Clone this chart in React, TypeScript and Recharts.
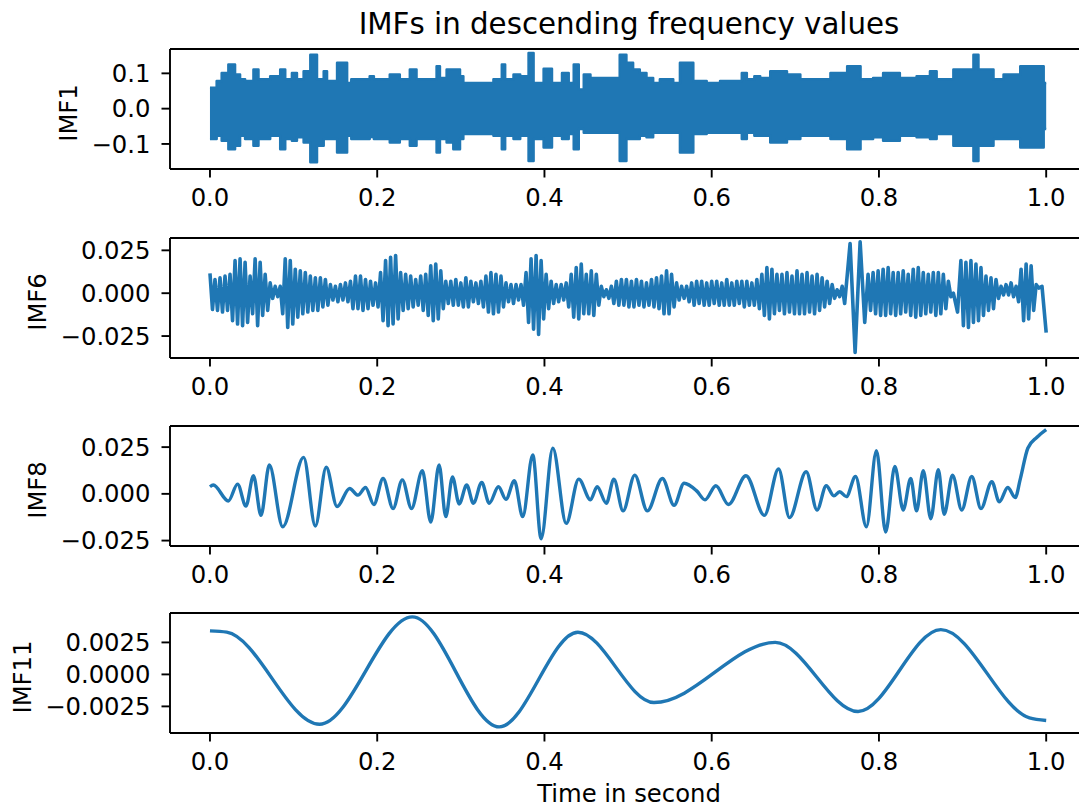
import React from 'react';
import { ComposedChart, Line, Area, XAxis, YAxis } from 'recharts';

const FONT = '"DejaVu Sans", sans-serif';
const BLUE = '#1f77b4';

// ---- x axis (time) ----
const xTicks = [0, 0.2, 0.4, 0.6, 0.8, 1.0];
const xTickLabels = ['0.0', '0.2', '0.4', '0.6', '0.8', '1.0'];

// ---- IMF1 : envelope of the dense high-frequency trace ----
const imf1Time = [0.000, 0.008, 0.014, 0.022, 0.030, 0.036, 0.042, 0.052, 0.058, 0.072, 0.084, 0.090, 0.098, 0.104, 0.112, 0.120, 0.128, 0.136, 0.140, 0.152, 0.164, 0.169, 0.191, 0.196, 0.215, 0.227, 0.239, 0.247, 0.271, 0.275, 0.283, 0.291, 0.299, 0.303, 0.339, 0.349, 0.353, 0.363, 0.371, 0.381, 0.387, 0.399, 0.409, 0.421, 0.429, 0.435, 0.441, 0.447, 0.455, 0.490, 0.498, 0.506, 0.514, 0.522, 0.530, 0.538, 0.554, 0.562, 0.578, 0.594, 0.610, 0.636, 0.642, 0.651, 0.658, 0.670, 0.690, 0.706, 0.742, 0.762, 0.778, 0.793, 0.805, 0.825, 0.845, 0.861, 0.869, 0.889, 0.913, 0.919, 0.937, 0.949, 0.969, 0.997, 1.000];
const imf1Upper = [0.059, 0.078, 0.101, 0.125, 0.097, 0.083, 0.078, 0.111, 0.083, 0.092, 0.111, 0.083, 0.101, 0.083, 0.106, 0.153, 0.083, 0.106, 0.078, 0.130, 0.073, 0.083, 0.092, 0.083, 0.097, 0.083, 0.111, 0.083, 0.120, 0.087, 0.111, 0.111, 0.092, 0.073, 0.083, 0.125, 0.083, 0.097, 0.092, 0.158, 0.073, 0.113, 0.073, 0.101, 0.073, 0.125, 0.054, 0.097, 0.087, 0.153, 0.130, 0.111, 0.101, 0.087, 0.073, 0.083, 0.073, 0.130, 0.078, 0.073, 0.078, 0.101, 0.083, 0.092, 0.087, 0.106, 0.097, 0.083, 0.101, 0.120, 0.083, 0.087, 0.101, 0.087, 0.092, 0.106, 0.083, 0.111, 0.153, 0.111, 0.083, 0.097, 0.120, 0.073, 0.073];
const imf1Lower = [-0.086, -0.077, -0.091, -0.115, -0.105, -0.077, -0.086, -0.105, -0.086, -0.077, -0.115, -0.086, -0.091, -0.081, -0.096, -0.152, -0.105, -0.086, -0.086, -0.124, -0.077, -0.086, -0.080, -0.086, -0.096, -0.086, -0.105, -0.086, -0.124, -0.086, -0.096, -0.115, -0.086, -0.072, -0.077, -0.115, -0.077, -0.086, -0.077, -0.148, -0.086, -0.110, -0.077, -0.086, -0.072, -0.115, -0.058, -0.068, -0.068, -0.148, -0.086, -0.086, -0.077, -0.081, -0.068, -0.068, -0.068, -0.124, -0.072, -0.068, -0.068, -0.086, -0.068, -0.077, -0.077, -0.096, -0.086, -0.077, -0.086, -0.115, -0.086, -0.081, -0.091, -0.077, -0.081, -0.086, -0.072, -0.105, -0.148, -0.105, -0.086, -0.086, -0.110, -0.058, -0.058];
const imf1Ticks = [-0.1, 0, 0.1];
const imf1TickLabels = ['\u22120.1', '0.0', '0.1'];

// ---- IMF6 : peaks and troughs of the trace ----
const imf6Time = [
  0.000, 0.003, 0.006, 0.009, 0.012, 0.015, 0.018, 0.021, 0.024, 0.027,
  0.030, 0.033, 0.036, 0.039, 0.042, 0.045, 0.048, 0.051, 0.054, 0.057,
  0.060, 0.063, 0.066, 0.069, 0.072, 0.075, 0.078, 0.081, 0.084, 0.087,
  0.090, 0.093, 0.096, 0.099, 0.102, 0.105, 0.108, 0.111, 0.114, 0.117,
  0.120, 0.123, 0.126, 0.129, 0.132, 0.135, 0.138, 0.141, 0.144, 0.147,
  0.150, 0.153, 0.156, 0.159, 0.162, 0.165, 0.168, 0.171, 0.174, 0.177,
  0.180, 0.183, 0.186, 0.189, 0.192, 0.195, 0.198, 0.201, 0.204, 0.207,
  0.210, 0.213, 0.216, 0.219, 0.222, 0.225, 0.228, 0.231, 0.234, 0.237,
  0.240, 0.243, 0.246, 0.249, 0.252, 0.255, 0.258, 0.261, 0.264, 0.267,
  0.270, 0.273, 0.276, 0.279, 0.282, 0.285, 0.288, 0.291, 0.294, 0.297,
  0.300, 0.303, 0.306, 0.309, 0.312, 0.315, 0.318, 0.321, 0.324, 0.327,
  0.330, 0.333, 0.336, 0.339, 0.342, 0.345, 0.348, 0.351, 0.354, 0.357,
  0.360, 0.363, 0.366, 0.369, 0.372, 0.375, 0.378, 0.381, 0.384, 0.387,
  0.390, 0.393, 0.396, 0.399, 0.402, 0.405, 0.408, 0.411, 0.414, 0.417,
  0.420, 0.423, 0.426, 0.429, 0.432, 0.435, 0.438, 0.441, 0.444, 0.447,
  0.450, 0.453, 0.456, 0.459, 0.462, 0.465, 0.468, 0.471, 0.474, 0.477,
  0.480, 0.483, 0.486, 0.489, 0.492, 0.495, 0.498, 0.501, 0.504, 0.507,
  0.510, 0.513, 0.516, 0.519, 0.522, 0.525, 0.528, 0.531, 0.534, 0.537,
  0.540, 0.543, 0.546, 0.549, 0.552, 0.555, 0.558, 0.561, 0.564, 0.567,
  0.570, 0.573, 0.576, 0.579, 0.582, 0.585, 0.588, 0.591, 0.594, 0.597,
  0.600, 0.603, 0.606, 0.609, 0.612, 0.615, 0.618, 0.621, 0.624, 0.627,
  0.630, 0.633, 0.636, 0.639, 0.642, 0.645, 0.648, 0.651, 0.654, 0.657,
  0.660, 0.663, 0.666, 0.669, 0.672, 0.675, 0.678, 0.681, 0.684, 0.687,
  0.690, 0.693, 0.696, 0.699, 0.702, 0.705, 0.708, 0.711, 0.714, 0.717,
  0.720, 0.723, 0.726, 0.729, 0.732, 0.735, 0.738, 0.741, 0.744, 0.747,
  0.750, 0.753, 0.756, 0.759,
  0.7655, 0.7715, 0.7775, 0.783, 0.787, 0.790,
  0.793, 0.796, 0.799, 0.802, 0.805, 0.808, 0.811, 0.814, 0.817, 0.820,
  0.823, 0.826, 0.829, 0.832, 0.835, 0.838, 0.841, 0.844, 0.847, 0.850,
  0.853, 0.856, 0.859, 0.862, 0.865, 0.868, 0.871, 0.874, 0.877, 0.880,
  0.883, 0.886,
  0.889, 0.894, 0.898, 0.901, 0.904, 0.907, 0.910, 0.913, 0.916, 0.919,
  0.922, 0.925, 0.928, 0.931, 0.934, 0.937, 0.940, 0.943, 0.946, 0.949,
  0.952, 0.955, 0.958, 0.961, 0.964, 0.967, 0.970, 0.973, 0.976, 0.979,
  0.982, 0.985, 0.988, 0.991, 0.995, 1.000,
];
const imf6Value = [
  0.0116, -0.0095, 0.008, -0.010, 0.009, -0.011, 0.010, -0.010, 0.011, -0.016,
  0.019, -0.018, 0.020, -0.019, 0.018, -0.017, 0.010, -0.012, 0.020, -0.019,
  0.018, -0.013, 0.011, -0.010, 0.006, -0.003, 0.004, -0.002, 0.004, -0.012,
  0.020, -0.020, 0.019, -0.018, 0.014, -0.014, 0.013, -0.012, 0.012, -0.011,
  0.010, -0.010, 0.009, -0.010, 0.009, -0.008, 0.008, -0.007, 0.005, -0.004,
  0.004, -0.005, 0.005, -0.004, 0.006, -0.005, 0.007, -0.009, 0.010, -0.009,
  0.010, -0.010, 0.008, -0.009, 0.007, -0.007, 0.006, -0.008, 0.012, -0.016,
  0.019, -0.019, 0.021, -0.018, 0.022, -0.015, 0.012, -0.010, 0.011, -0.009,
  0.010, -0.008, 0.008, -0.007, 0.010, -0.010, 0.011, -0.013, 0.016, -0.016,
  0.017, -0.015, 0.013, -0.009, 0.007, -0.006, 0.007, -0.007, 0.008, -0.007,
  0.006, -0.008, 0.009, -0.008, 0.007, -0.005, 0.006, -0.006, 0.007, -0.008,
  0.010, -0.011, 0.012, -0.012, 0.011, -0.011, 0.010, -0.008, 0.006, -0.005,
  0.005, -0.006, 0.005, -0.004, 0.005, -0.007, 0.012, -0.017, 0.020, -0.021,
  0.022, -0.024, 0.019, -0.015, 0.011, -0.009, 0.007, -0.006, 0.005, -0.005,
  0.005, -0.004, 0.006, -0.008, 0.011, -0.014, 0.015, -0.015, 0.017, -0.012,
  0.011, -0.012, 0.013, -0.013, 0.011, -0.007, 0.004, -0.002, 0.002, -0.003,
  0.004, -0.006, 0.007, -0.007, 0.008, -0.007, 0.008, -0.008, 0.007, -0.008,
  0.008, -0.007, 0.007, -0.008, 0.006, -0.007, 0.008, -0.008, 0.009, -0.009,
  0.010, -0.012, 0.013, -0.012, 0.011, -0.008, 0.006, -0.004, 0.004, -0.003,
  0.004, -0.005, 0.006, -0.007, 0.007, -0.006, 0.007, -0.007, 0.006, -0.007,
  0.007, -0.006, 0.007, -0.007, 0.006, -0.007, 0.008, -0.007, 0.006, -0.007,
  0.007, -0.006, 0.007, -0.008, 0.007, -0.007, 0.006, -0.007, 0.008, -0.009,
  0.011, -0.013, 0.015, -0.015, 0.014, -0.012, 0.011, -0.010, 0.011, -0.012,
  0.012, -0.011, 0.010, -0.012, 0.013, -0.012, 0.011, -0.012, 0.012, -0.011,
  0.010, -0.012, 0.011, -0.010, 0.009, -0.008, 0.007, -0.006, 0.005, -0.003,
  0.002, -0.002, 0.004, -0.006,
  0.029, -0.0346, 0.030, -0.017, 0.011, -0.010,
  0.012, -0.012, 0.013, -0.013, 0.014, -0.013, 0.015, -0.012, 0.012, -0.013,
  0.012, -0.012, 0.013, -0.011, 0.011, -0.013, 0.014, -0.014, 0.015, -0.013,
  0.012, -0.012, 0.011, -0.011, 0.012, -0.013, 0.012, -0.012, 0.011, -0.009,
  0.007, -0.002,
  0.000, -0.011, 0.019, -0.019, 0.018, -0.020, 0.019, -0.017, 0.017, -0.016,
  0.015, -0.013, 0.010, -0.010, 0.009, -0.009, 0.008, -0.003, 0.004, -0.001,
  0.005, -0.001, 0.006, -0.002, 0.004, -0.005, 0.014, -0.016, 0.017, -0.015,
  0.016, -0.010, 0.005, 0.003, 0.004, -0.023,
];
const imf6Ticks = [-0.025, 0, 0.025];
const imf6TickLabels = ['\u22120.025', '0.000', '0.025'];

// ---- IMF8 : peaks and troughs ----
const imf8Time = [0, 0.004, 0.022, 0.033, 0.043, 0.052, 0.061, 0.071, 0.087, 0.112, 0.126, 0.139, 0.152, 0.167, 0.177, 0.186, 0.196, 0.207, 0.219, 0.230, 0.241, 0.254, 0.264, 0.274, 0.282, 0.290, 0.298, 0.307, 0.315, 0.325, 0.334, 0.345, 0.354, 0.364, 0.374, 0.386, 0.396, 0.410, 0.426, 0.441, 0.455, 0.463, 0.474, 0.483, 0.494, 0.508, 0.523, 0.541, 0.555, 0.567, 0.582, 0.592, 0.605, 0.620, 0.641, 0.663, 0.680, 0.693, 0.713, 0.726, 0.737, 0.746, 0.753, 0.761, 0.772, 0.785, 0.797, 0.808, 0.819, 0.829, 0.838, 0.845, 0.853, 0.862, 0.871, 0.878, 0.888, 0.899, 0.911, 0.922, 0.935, 0.944, 0.954, 0.963, 0.969, 0.978, 0.989, 1.0];
const imf8Value = [0.0038, 0.0047, -0.0038, 0.0052, -0.0065, 0.0097, -0.0115, 0.0154, -0.0176, 0.0195, -0.0172, 0.0142, -0.0068, 0.0029, -0.0007, 0.0034, -0.0057, 0.0082, -0.0079, 0.0075, -0.0079, 0.0124, -0.0151, 0.0154, -0.0122, 0.0091, -0.0054, 0.0047, -0.0050, 0.0061, -0.0050, 0.0038, -0.0029, 0.0070, -0.0122, 0.0208, -0.0240, 0.0244, -0.0158, 0.0079, -0.0032, 0.0038, -0.0050, 0.0079, -0.0091, 0.0100, -0.0091, 0.0082, -0.0061, 0.0057, 0.0016, -0.0032, 0.0043, -0.0057, 0.0097, -0.0115, 0.0133, -0.0127, 0.0118, -0.0086, 0.0043, -0.0011, 0.0011, -0.0015, 0.0093, -0.0176, 0.0231, -0.0204, 0.0147, -0.0086, 0.0082, -0.0091, 0.0124, -0.0133, 0.0129, -0.0109, 0.0100, -0.0086, 0.0093, -0.0079, 0.0065, -0.0043, 0.0034, -0.0020, 0.0079, 0.0244, 0.0303, 0.0344];
const imf8Ticks = [-0.025, 0, 0.025];
const imf8TickLabels = ['\u22120.025', '0.000', '0.025'];

// ---- IMF11 : slow oscillation ----
const imf11Time = [0, 0.02, 0.131, 0.242, 0.346, 0.44, 0.531, 0.676, 0.775, 0.874, 0.98, 1.0];
const imf11Value = [0.0034, 0.0033, -0.0039, 0.0045, -0.0041, 0.0033, -0.0022, 0.0025, -0.0029, 0.0035, -0.0034, -0.0036];
const imf11Ticks = [-0.0025, 0, 0.0025];
const imf11TickLabels = ['\u22120.0025', '0.0000', '0.0025'];

// ---- layout ----
const X_DOMAIN: [number, number] = [-0.0478, 1.05];
const CHART_W = 1100;
const AXIS_W = 170;
const PLOT_H = 120;
const MT = 10;
const XH = 50;
const TICK_FONT = 24.3;
const TITLE_FONT = 29.3;

const imf1Data = imf1Time.map((t, i) => ({ t, range: [imf1Lower[i], imf1Upper[i]] }));
const imf6Data = imf6Time.map((t, i) => ({ t, v: imf6Value[i] }));
const imf8Data = imf8Time.map((t, i) => ({ t, v: imf8Value[i] }));
const imf11Data = imf11Time.map((t, i) => ({ t, v: imf11Value[i] }));

const fmt = (ticks: number[], labels: string[]) => (v: number) => {
  const i = ticks.findIndex((x) => Math.abs(x - v) < 1e-12);
  return i >= 0 ? labels[i] : String(v);
};

type PanelProps = {
  top: number;
  data: any[];
  yDomain: [number, number];
  yTicks: number[];
  yTickLabels: string[];
  children: React.ReactNode;
};

function Panel({ top, data, yDomain, yTicks, yTickLabels, children }: PanelProps) {
  const axisLine = { stroke: '#000', strokeWidth: 1.9 };
  const tickStyle = { fill: '#000', fontSize: TICK_FONT, fontFamily: FONT };
  return (
    <div style={{ position: 'absolute', left: 0, top: top - MT }}>
      <ComposedChart width={CHART_W} height={MT + PLOT_H + XH} data={data} margin={{ top: MT - 1, right: 12, bottom: 0, left: 0 }}>
        <XAxis
          dataKey="t"
          type="number"
          domain={X_DOMAIN}
          allowDataOverflow
          ticks={xTicks}
          tickFormatter={fmt(xTicks, xTickLabels)}
          height={XH}
          tickSize={8.5}
          tickMargin={11.5}
          axisLine={axisLine}
          tickLine={axisLine}
          tick={tickStyle}
          interval={0}
        />
        <XAxis
          xAxisId="top"
          orientation="top"
          dataKey="t"
          type="number"
          domain={X_DOMAIN}
          allowDataOverflow
          height={1}
          tick={false}
          tickLine={false}
          axisLine={axisLine}
        />
        <YAxis
          type="number"
          domain={yDomain}
          allowDataOverflow
          ticks={yTicks}
          tickFormatter={fmt(yTicks, yTickLabels)}
          width={AXIS_W}
          tickSize={8.5}
          tickMargin={11}
          axisLine={axisLine}
          tickLine={axisLine}
          tick={tickStyle}
          interval={0}
        />
        {children}
      </ComposedChart>
    </div>
  );
}

function YLabel({ text, cx, cy }: { text: string; cx: number; cy: number }) {
  return (
    <div
      style={{
        position: 'absolute',
        left: cx,
        top: cy,
        transform: 'translate(-50%, -50%) rotate(-90deg)',
        fontFamily: FONT,
        fontSize: TICK_FONT,
        lineHeight: 1,
        whiteSpace: 'nowrap',
        color: '#000',
      }}
    >
      {text}
    </div>
  );
}

export default function App() {
  const tops = [49, 238, 426, 613];
  return (
    <div style={{ position: 'fixed', left: 0, top: 0, width: 1079, height: 807, overflow: 'hidden', background: '#fff' }}>
      <div
        style={{
          position: 'absolute',
          left: 0,
          width: 1258,
          top: 10,
          textAlign: 'center',
          fontFamily: FONT,
          fontSize: TITLE_FONT,
          lineHeight: 1,
          color: '#000',
          whiteSpace: 'nowrap',
        }}
      >
        IMFs in descending frequency values
      </div>

      <Panel top={tops[0]} data={imf1Data} yDomain={[-0.171, 0.169]} yTicks={imf1Ticks} yTickLabels={imf1TickLabels}>
        <Area
          dataKey="range"
          type="stepAfter"
          stroke={BLUE}
          strokeWidth={2.5}
          strokeLinejoin="round"
          fill={BLUE}
          fillOpacity={1}
          isAnimationActive={false}
          dot={false}
          activeDot={false}
        />
      </Panel>
      <Panel top={tops[1]} data={imf6Data} yDomain={[-0.0378, 0.0322]} yTicks={imf6Ticks} yTickLabels={imf6TickLabels}>
        <Line dataKey="v" type="linear" stroke={BLUE} strokeWidth={3.6} strokeLinejoin="round" dot={false} activeDot={false} isAnimationActive={false} />
      </Panel>
      <Panel top={tops[2]} data={imf8Data} yDomain={[-0.0279, 0.0363]} yTicks={imf8Ticks} yTickLabels={imf8TickLabels}>
        <Line dataKey="v" type="monotone" stroke={BLUE} strokeWidth={3.4} strokeLinejoin="round" dot={false} activeDot={false} isAnimationActive={false} />
      </Panel>
      <Panel top={tops[3]} data={imf11Data} yDomain={[-0.00458, 0.0048]} yTicks={imf11Ticks} yTickLabels={imf11TickLabels}>
        <Line dataKey="v" type="monotone" stroke={BLUE} strokeWidth={3.4} strokeLinejoin="round" dot={false} activeDot={false} isAnimationActive={false} />
      </Panel>

      <YLabel text="IMF1" cx={69} cy={113} />
      <YLabel text="IMF6" cx={38} cy={302} />
      <YLabel text="IMF8" cx={38} cy={490} />
      <YLabel text="IMF11" cx={23} cy={677} />

      <div
        style={{
          position: 'absolute',
          left: 0,
          width: 1258,
          top: 782,
          textAlign: 'center',
          fontFamily: FONT,
          fontSize: TICK_FONT,
          lineHeight: 1,
          color: '#000',
          whiteSpace: 'nowrap',
        }}
      >
        Time in second
      </div>
    </div>
  );
}
